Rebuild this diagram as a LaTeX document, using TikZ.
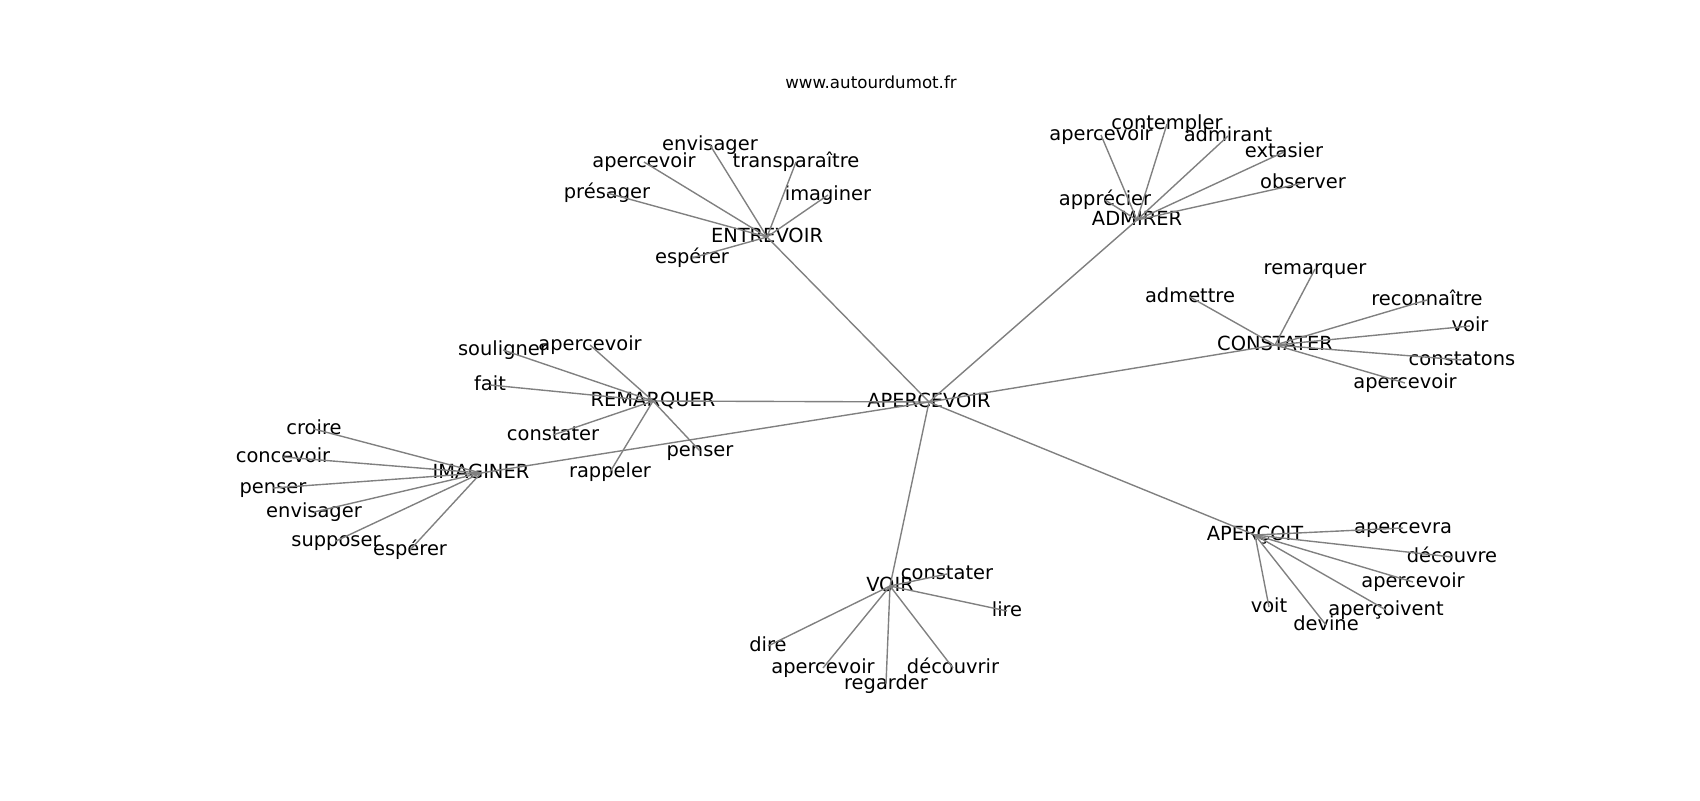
\documentclass[tikz,border=0pt]{standalone}
\usepackage{fontspec}
\setmainfont{DejaVu Sans}
\definecolor{edgegray}{RGB}{128,128,128}
\tikzset{
  lbl/.style={font=\fontsize{14}{16}\selectfont, inner sep=0pt, text height=0.9em, text depth=0.1em, anchor=center},
  ttl/.style={font=\fontsize{12}{14}\selectfont, inner sep=0pt, text height=0.76em, text depth=0.24em, anchor=center},
  edge/.style={draw=edgegray, line width=1pt}
}
\begin{document}
\begin{tikzpicture}[x=0.72pt,y=-0.72pt]
\useasboundingbox (0,0) rectangle (1700,800);
\node[ttl] (title) at (871,85) {www.autourdumot.fr};
% hubs
\node[lbl] (c) at (929,402) {APERCEVOIR};
\node[lbl] (en) at (767,237) {ENTREVOIR};
\node[lbl] (ad) at (1137,220) {ADMIRER};
\node[lbl] (co) at (1275,345) {CONSTATER};
\node[lbl] (ao) at (1255,535) {APERÇOIT};
\node[lbl] (vo) at (890,586) {VOIR};
\node[lbl] (im) at (481,473) {IMAGINER};
\node[lbl] (re) at (653,401) {REMARQUER};
% ENTREVOIR
\node[lbl] (en1) at (710,145) {envisager};
\node[lbl] (en2) at (644,162) {apercevoir};
\node[lbl] (en3) at (796,162) {transparaître};
\node[lbl] (en4) at (607,193) {présager};
\node[lbl] (en5) at (828,195) {imaginer};
\node[lbl] (en6) at (692,258) {espérer};
% ADMIRER
\node[lbl] (ad1) at (1101,135) {apercevoir};
\node[lbl] (ad2) at (1167,124) {contempler};
\node[lbl] (ad3) at (1228,136) {admirant};
\node[lbl] (ad4) at (1284,152) {extasier};
\node[lbl] (ad5) at (1303,183) {observer};
\node[lbl] (ad6) at (1105,200) {apprécier};
% CONSTATER
\node[lbl] (co1) at (1315,269) {remarquer};
\node[lbl] (co2) at (1190,297) {admettre};
\node[lbl] (co3) at (1427,300) {reconnaître};
\node[lbl] (co4) at (1470,326) {voir};
\node[lbl] (co5) at (1462,360) {constatons};
\node[lbl] (co6) at (1405,383) {apercevoir};
% APERÇOIT
\node[lbl] (ao1) at (1403,528) {apercevra};
\node[lbl] (ao2) at (1452,557) {découvre};
\node[lbl] (ao3) at (1413,582) {apercevoir};
\node[lbl] (ao4) at (1386,610) {aperçoivent};
\node[lbl] (ao5) at (1269,607) {voit};
\node[lbl] (ao6) at (1326,625) {devine};
% VOIR
\node[lbl] (vo1) at (947,574) {constater};
\node[lbl] (vo2) at (1007,611) {lire};
\node[lbl] (vo3) at (768,646) {dire};
\node[lbl] (vo4) at (823,668) {apercevoir};
\node[lbl] (vo5) at (886,684) {regarder};
\node[lbl] (vo6) at (953,668) {découvrir};
% IMAGINER
\node[lbl] (im1) at (314,429) {croire};
\node[lbl] (im2) at (283,457) {concevoir};
\node[lbl] (im3) at (273,488) {penser};
\node[lbl] (im4) at (314,512) {envisager};
\node[lbl] (im5) at (336,541) {supposer};
\node[lbl] (im6) at (410,550) {espérer};
% REMARQUER
\node[lbl] (re1) at (503,350) {souligner};
\node[lbl] (re2) at (590,345) {apercevoir};
\node[lbl] (re3) at (490,385) {fait};
\node[lbl] (re4) at (553,435) {constater};
\node[lbl] (re5) at (700,451) {penser};
\node[lbl] (re6) at (610,472) {rappeler};
% edges
\foreach \h in {en,ad,co,ao,vo,im,re}{
  \draw[edge] (c.center) -- (\h.center);
  \foreach \i in {1,...,6}{
    \draw[edge] (\h.center) -- (\h\i.center);
  }
}
\end{tikzpicture}
\end{document}
